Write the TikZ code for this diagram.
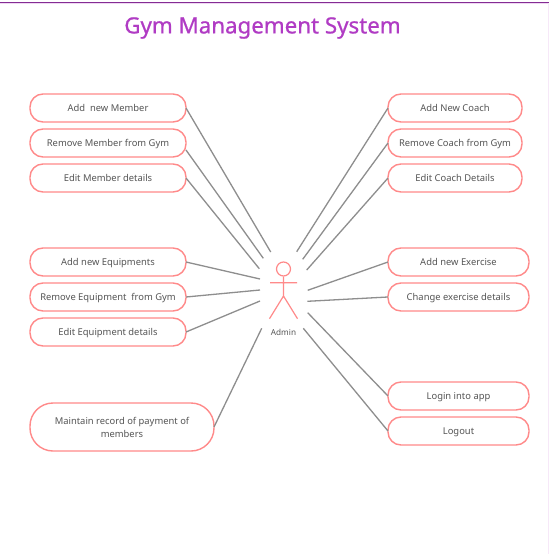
\documentclass[tikz,border=0pt]{standalone}
\usepackage{fontspec}
\setmainfont{Noto Sans}
\newfontfamily\titlefont[FakeBold=0.7]{Noto Sans}
\usetikzlibrary{positioning}

\definecolor{boxred}{HTML}{FF8A8A}
\definecolor{linegray}{HTML}{8E8E8E}
\definecolor{textgray}{HTML}{555555}
\definecolor{titlepurple}{HTML}{B03BC4}

\begin{document}
\begin{tikzpicture}
    [
    x=1pt, y=-1pt,
    usecase/.style={rectangle, draw=boxred, line width=1.4pt, rounded corners=13pt,
        minimum height=28pt, minimum width=#1, inner sep=0pt, outer sep=0pt,
        text height=8pt, text depth=1pt,
        font=\fontsize{9.4}{13}\selectfont, text=textgray, align=center},
    usecase/.default=156pt,
    link/.style={draw=linegray, line width=1.3pt},
    stick/.style={draw=boxred, line width=1.2pt}
    ]
    \useasboundingbox (0,0) rectangle (549,554);
    \fill [white] (0,0) rectangle (549,554);
    \draw [titlepurple!20!white, line width=0.8pt] (0,3.6) -- (549,3.6);
    \draw [titlepurple!75!black, line width=1.4pt] (0,2.2) -- (549,2.2);
    \draw [titlepurple!12!white, line width=0.8pt] (548.4,3) -- (548.4,554);

    \node (title) at (262.5,28) [text=titlepurple, font=\titlefont\fontsize{22.3}{26}\selectfont] {Gym Management System};

    % Left side
    \node (addmember) at (108,108) [usecase] {Add\ \ new Member};
    \node (removemember) [below=7pt of addmember, usecase] {Remove Member from Gym};
    \node (editmember) [below=7pt of removemember, usecase] {Edit Member details};
    \node (addequip) at (108,262) [usecase] {Add new Equipments};
    \node (removeequip) [below=7pt of addequip, usecase] {Remove Equipment\ \ from Gym};
    \node (editequip) [below=7pt of removeequip, usecase] {Edit Equipment details};
    \node (payment) at (122,427) [usecase=184pt, minimum height=48pt, rounded corners=23pt,
        text height=, text depth=] {Maintain record of payment of\\members};

    % Right side
    \node (addcoach) at (455,108) [usecase=134pt] {Add New Coach};
    \node (removecoach) [below=7pt of addcoach, usecase=134pt] {Remove Coach from Gym};
    \node (editcoach) [below=7pt of removecoach, usecase=134pt] {Edit Coach Details};
    \node (addexercise) at (458.5,262) [usecase=141pt] {Add new Exercise};
    \node (changeexercise) [below=7pt of addexercise, usecase=141pt] {Change exercise details};
    \node (login) at (458.5,396) [usecase=141pt] {Login into app};
    \node (logout) [below=7pt of login, usecase=141pt] {Logout};

    % Admin
    \node (head) at (283.5,269) [circle, stick, minimum width=14pt, inner sep=0pt] {};
    \coordinate (hip) at (283.5,296);
    \coordinate (armL) at (270,282.7);
    \coordinate (armR) at (297,282.7);
    \coordinate (footL) at (269.5,318.7);
    \coordinate (footR) at (297.5,318.7);
    \draw [stick] (head) -- (hip) (armL) -- (armR) (footL) -- (hip) -- (footR);
    \node (admin) at (283.5,332.5) [text=textgray, font=\fontsize{8.2}{10}\selectfont] {Admin};

    % Free ends of the links
    \foreach \name/\x/\y in {a/270.7/252,b/263.3/258.3,c/259.3/268.7,d/260/279,e/260/290,f/260/301,
        g/261.7/328.3,h/296.7/251.7,i/302.7/259.3,j/306.7/270,k/307.7/290.3,l/307.3/301.3,
        m/307.7/312.7,n/303.3/328.3}
    \coordinate (\name) at (\x,\y);
    \coordinate (removeport) at ([yshift=-7pt]removemember.east);

    \foreach \i/\j in {addmember.east/a,removeport/b,editmember.east/c,addequip.east/d,removeequip.east/e,
        editequip.east/f,payment.east/g,addcoach.west/h,removecoach.west/i,editcoach.west/j,
        addexercise.west/k,changeexercise.west/l,login.west/m,logout.west/n}
    \draw [link] (\i) -- (\j);
\end{tikzpicture}
\end{document}
